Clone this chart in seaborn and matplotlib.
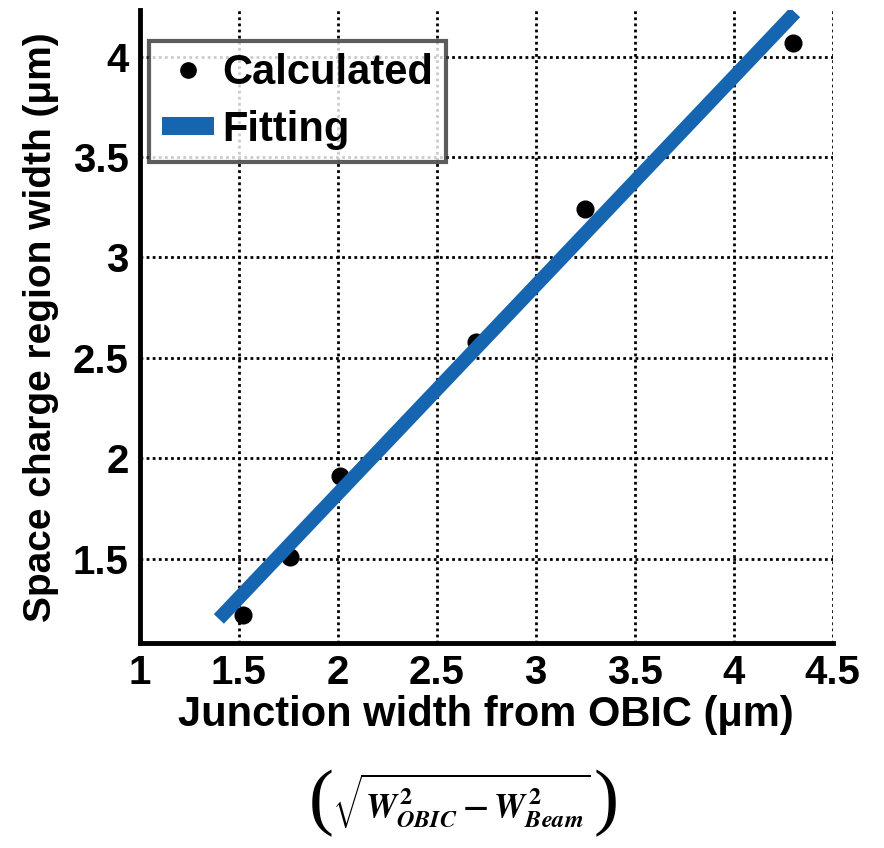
import matplotlib
matplotlib.use("Agg")
import matplotlib.pyplot as plt
import seaborn as sns
import pandas as pd
from matplotlib.lines import Line2D

# Data
calc_x = [1.52, 1.76, 2.01, 2.70, 3.25, 4.30]
calc_y = [1.22, 1.51, 1.91, 2.58, 3.24, 4.07]
fit_x = [1.40, 4.31]
fit_y = [1.20, 4.22]
xticks = [1, 1.5, 2, 2.5, 3, 3.5, 4, 4.5]
xticklabels = ["1", "1.5", "2", "2.5", "3", "3.5", "4", "4.5"]
yticks = [1.5, 2, 2.5, 3, 3.5, 4]
yticklabels = ["1.5", "2", "2.5", "3", "3.5", "4"]

sns.set_style("white")
plt.rcParams['font.family'] = ['Liberation Sans', 'DejaVu Sans']
plt.rcParams['font.weight'] = 'bold'
plt.rcParams['text.color'] = 'black'
plt.rcParams['axes.labelcolor'] = 'black'
plt.rcParams['xtick.color'] = 'black'
plt.rcParams['ytick.color'] = 'black'
plt.rcParams['mathtext.fontset'] = 'custom'
plt.rcParams['mathtext.it'] = 'STIXGeneral:italic:bold'
plt.rcParams['mathtext.rm'] = 'STIXGeneral:bold'
plt.rcParams['mathtext.bf'] = 'STIXGeneral:italic:bold'

fig = plt.figure(figsize=(8.84, 8.48), dpi=100)
ax = fig.add_axes([0.158, 0.2417, 0.784, 0.746])

calc_df = pd.DataFrame({"x": calc_x, "y": calc_y})
fit_df = pd.DataFrame({"x": fit_x, "y": fit_y})

BLUE = "#1565b0"
sns.scatterplot(data=calc_df, x="x", y="y", ax=ax, color="black", s=170,
                edgecolor="black", linewidth=0, zorder=3, legend=False)
sns.lineplot(data=fit_df, x="x", y="y", ax=ax, color=BLUE, linewidth=10,
             zorder=4, legend=False, solid_capstyle="butt")

ax.set_xlim(1, 4.5)
ax.set_ylim(1.08, 4.23)
ax.set_xticks(xticks)
ax.set_xticklabels(xticklabels)
ax.set_yticks(yticks)
ax.set_yticklabels(yticklabels)
ax.tick_params(axis="both", direction="in", length=7, width=3, labelsize=29, pad=8)
for lab in ax.get_xticklabels() + ax.get_yticklabels():
    lab.set_fontweight("bold")

ax.grid(True, color="black", linestyle=(0, (1, 1.2)), linewidth=2)
for s in ["top", "right"]:
    ax.spines[s].set_visible(False)
for s in ["left", "bottom"]:
    ax.spines[s].set_linewidth(3.5)
    ax.spines[s].set_color("black")

ax.set_xlabel("Junction width from OBIC (μm)", fontsize=30, fontweight="bold", labelpad=2)
ax.set_ylabel("Space charge region width (μm)", fontsize=28, fontweight="bold", labelpad=10)

handles = [
    Line2D([0], [0], marker="o", color="none", markerfacecolor="black",
           markeredgecolor="black", markersize=11),
    Line2D([0], [0], color=BLUE, linewidth=13, solid_capstyle="butt"),
]
leg = ax.legend(handles, ["Calculated", "Fitting"], loc="upper left",
                bbox_to_anchor=(0.014, 0.952), prop={"size": 30, "weight": "bold"},
                frameon=True, fancybox=False, handlelength=1.25, handletextpad=0.2,
                borderpad=0.3, labelspacing=0.4, borderaxespad=0)
leg.get_frame().set_edgecolor("#333333")
leg.get_frame().set_linewidth(3)

fig.text(0.522, 0.055, r"$\sqrt{W_{OBIC}^{2}-W_{Beam}^{2}}$",
         fontsize=25, ha="center", va="center")
fig.text(0.363, 0.052, "(", fontsize=54, ha="center", va="center",
         family="Liberation Serif", fontweight="normal")
fig.text(0.686, 0.052, ")", fontsize=54, ha="center", va="center",
         family="Liberation Serif", fontweight="normal")

fig.savefig("out.png", dpi=100, facecolor="white")
